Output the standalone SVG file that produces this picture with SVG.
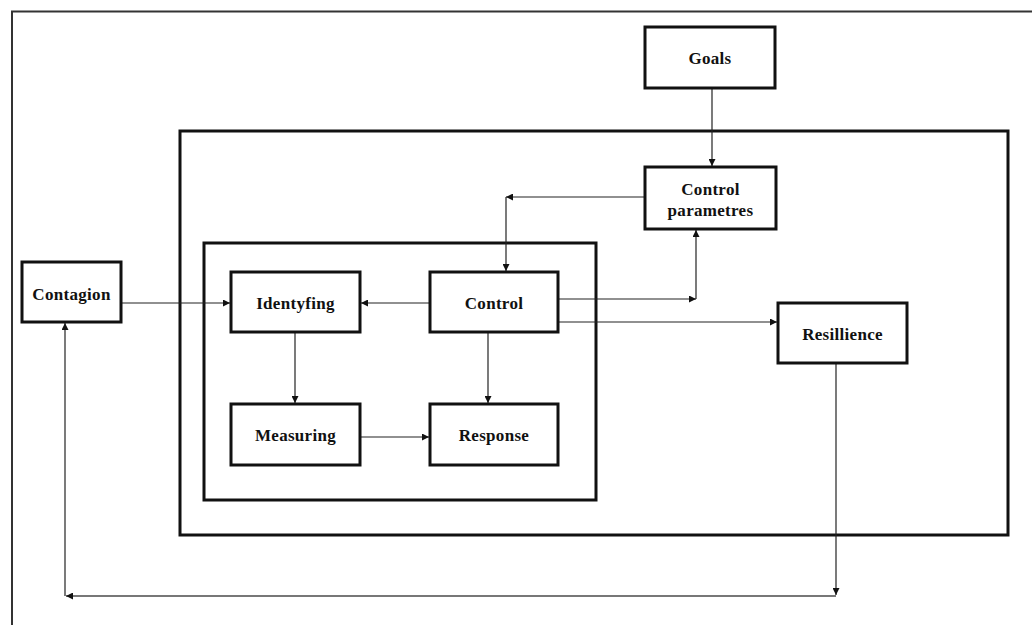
<svg xmlns="http://www.w3.org/2000/svg" width="1032" height="625" viewBox="0 0 1032 625">
<style>
.box{fill:#fff;stroke:#111;stroke-width:3}
.frame{fill:none;stroke:#111;stroke-width:3}
.lbl{font-family:"Liberation Serif","Times New Roman",serif;font-weight:bold;font-size:17px;letter-spacing:0.3px;fill:#111;text-anchor:middle;dominant-baseline:central}
.c{fill:none;stroke:#222;stroke-width:1.2}
</style>
<defs>
<marker id="ah" viewBox="0 0 10 10" refX="10" refY="5" markerWidth="9" markerHeight="7" markerUnits="userSpaceOnUse" orient="auto">
<path d="M0,0 L10,5 L0,10 z" fill="#111"/>
</marker>
</defs>
<rect width="1032" height="625" fill="#fff"/>
<g id="page-frame"><path d="M12,625 V11.5 H1032" fill="none" stroke="#333" stroke-width="2"/></g>
<g id="system-frame"><rect class="frame" x="180" y="131" width="828" height="404"/></g>
<g id="process-frame"><rect class="frame" x="204" y="243" width="392" height="257"/></g>
<g id="connectors">
<path class="c" d="M712,88 V166" marker-end="url(#ah)"/>
<path class="c" d="M645,197 H506" marker-end="url(#ah)"/>
<path class="c" d="M506,197 V271" marker-end="url(#ah)"/>
<path class="c" d="M558,299 H696" marker-end="url(#ah)"/>
<path class="c" d="M696,299 V230" marker-end="url(#ah)"/>
<path class="c" d="M558,322 H777" marker-end="url(#ah)"/>
<path class="c" d="M430,303 H361" marker-end="url(#ah)"/>
<path class="c" d="M121,303 H230" marker-end="url(#ah)"/>
<path class="c" d="M295,332 V403" marker-end="url(#ah)"/>
<path class="c" d="M488,332 V403" marker-end="url(#ah)"/>
<path class="c" d="M360,437 H429" marker-end="url(#ah)"/>
<path class="c" d="M836,363 V595" marker-end="url(#ah)"/>
<path d="M836,596 H66" fill="none" stroke="#777" stroke-width="2" marker-end="url(#ah)"/>
<path class="c" d="M65,596 V323" marker-end="url(#ah)"/>
</g>
<g id="goals"><rect class="box" x="645" y="27" width="130" height="61"/><text class="lbl" x="710" y="58">Goals</text></g>
<g id="control-parametres"><rect class="box" x="645" y="167" width="131" height="62"/><text class="lbl" x="710.5" y="189">Control</text><text class="lbl" x="710.5" y="210">parametres</text></g>
<g id="contagion"><rect class="box" x="22" y="262" width="99" height="60"/><text class="lbl" x="71.5" y="294">Contagion</text></g>
<g id="identyfing"><rect class="box" x="231" y="272" width="129" height="60"/><text class="lbl" x="295.5" y="303">Identyfing</text></g>
<g id="control"><rect class="box" x="430" y="272" width="128" height="60"/><text class="lbl" x="494" y="303">Control</text></g>
<g id="measuring"><rect class="box" x="231" y="404" width="129" height="61"/><text class="lbl" x="295.5" y="435">Measuring</text></g>
<g id="response"><rect class="box" x="430" y="404" width="128" height="61"/><text class="lbl" x="494" y="435">Response</text></g>
<g id="resillience"><rect class="box" x="778" y="303" width="129" height="60"/><text class="lbl" x="842.5" y="334">Resillience</text></g>
</svg>
